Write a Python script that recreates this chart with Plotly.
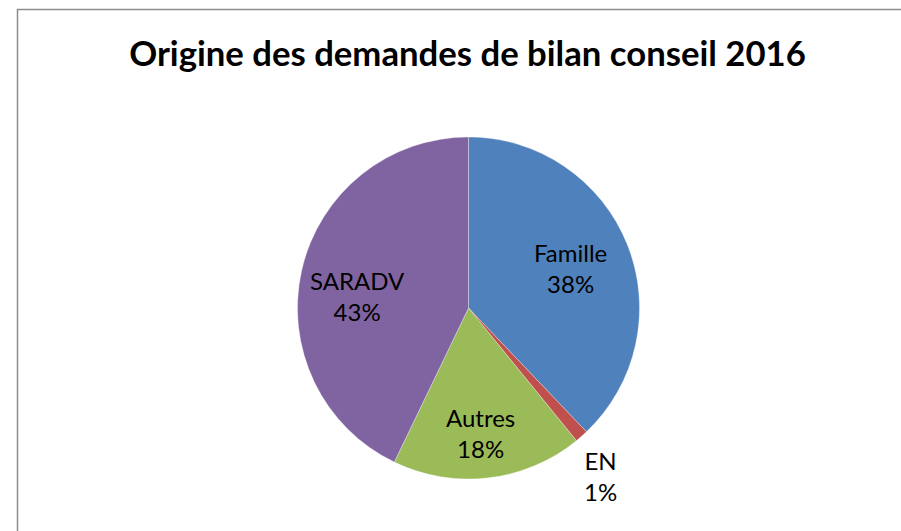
import plotly.graph_objects as go

categories = ["Famille", "EN", "Autres", "SARADV"]
values = [61, 2, 29, 69]
colors = ["#4F81BD", "#C0504D", "#9BBB59", "#8064A2"]
title_text = "Origine des demandes de bilan conseil 2016"

# label anchor positions (pixels) for each category's data label
label_pos = [(570, 267.5), (600, 476), (481, 433), (357.5, 295.5)]

W, H = 901, 531
FONT = "Lato, Open Sans, sans-serif"
total = sum(values)

fig = go.Figure(go.Pie(
    labels=categories,
    values=values,
    sort=False,
    direction="clockwise",
    rotation=0,
    marker=dict(colors=colors, line=dict(color="rgba(255,255,255,0.6)", width=0.5)),
    textinfo="none",
    hoverinfo="label+percent",
    showlegend=False,
    domain=dict(x=[297 / W, 640 / W], y=[52 / H, 394 / H]),
))

annotations = []
for cat, v, (px, py) in zip(categories, values, label_pos):
    annotations.append(dict(
        text=f"{cat}<br>{round(100 * v / total)}%",
        x=px / W, y=1 - py / H, xref="paper", yref="paper",
        xanchor="center", yanchor="middle", showarrow=False,
        font=dict(family=FONT, size=24, color="black"),
    ))

fig.update_layout(
    width=W, height=H,
    margin=dict(l=0, r=0, t=0, b=0),
    paper_bgcolor="white",
    title=dict(
        text="<b>" + title_text + "</b>",
        x=467.5 / W, xanchor="center",
        y=1 - 53.5 / H, yanchor="middle",
        font=dict(family=FONT, size=34.7, color="black"),
    ),
    annotations=annotations,
    shapes=[dict(type="rect", xref="paper", yref="paper",
                 x0=17.5 / W, x1=1.02, y0=-0.02, y1=1 - 9.5 / H,
                 line=dict(color="#8C8C8C", width=1.5))],
)

fig.write_html("out.html",
               config={"displayModeBar": False},
               post_script="document.body.style.margin='0';document.body.style.overflow='hidden';")
